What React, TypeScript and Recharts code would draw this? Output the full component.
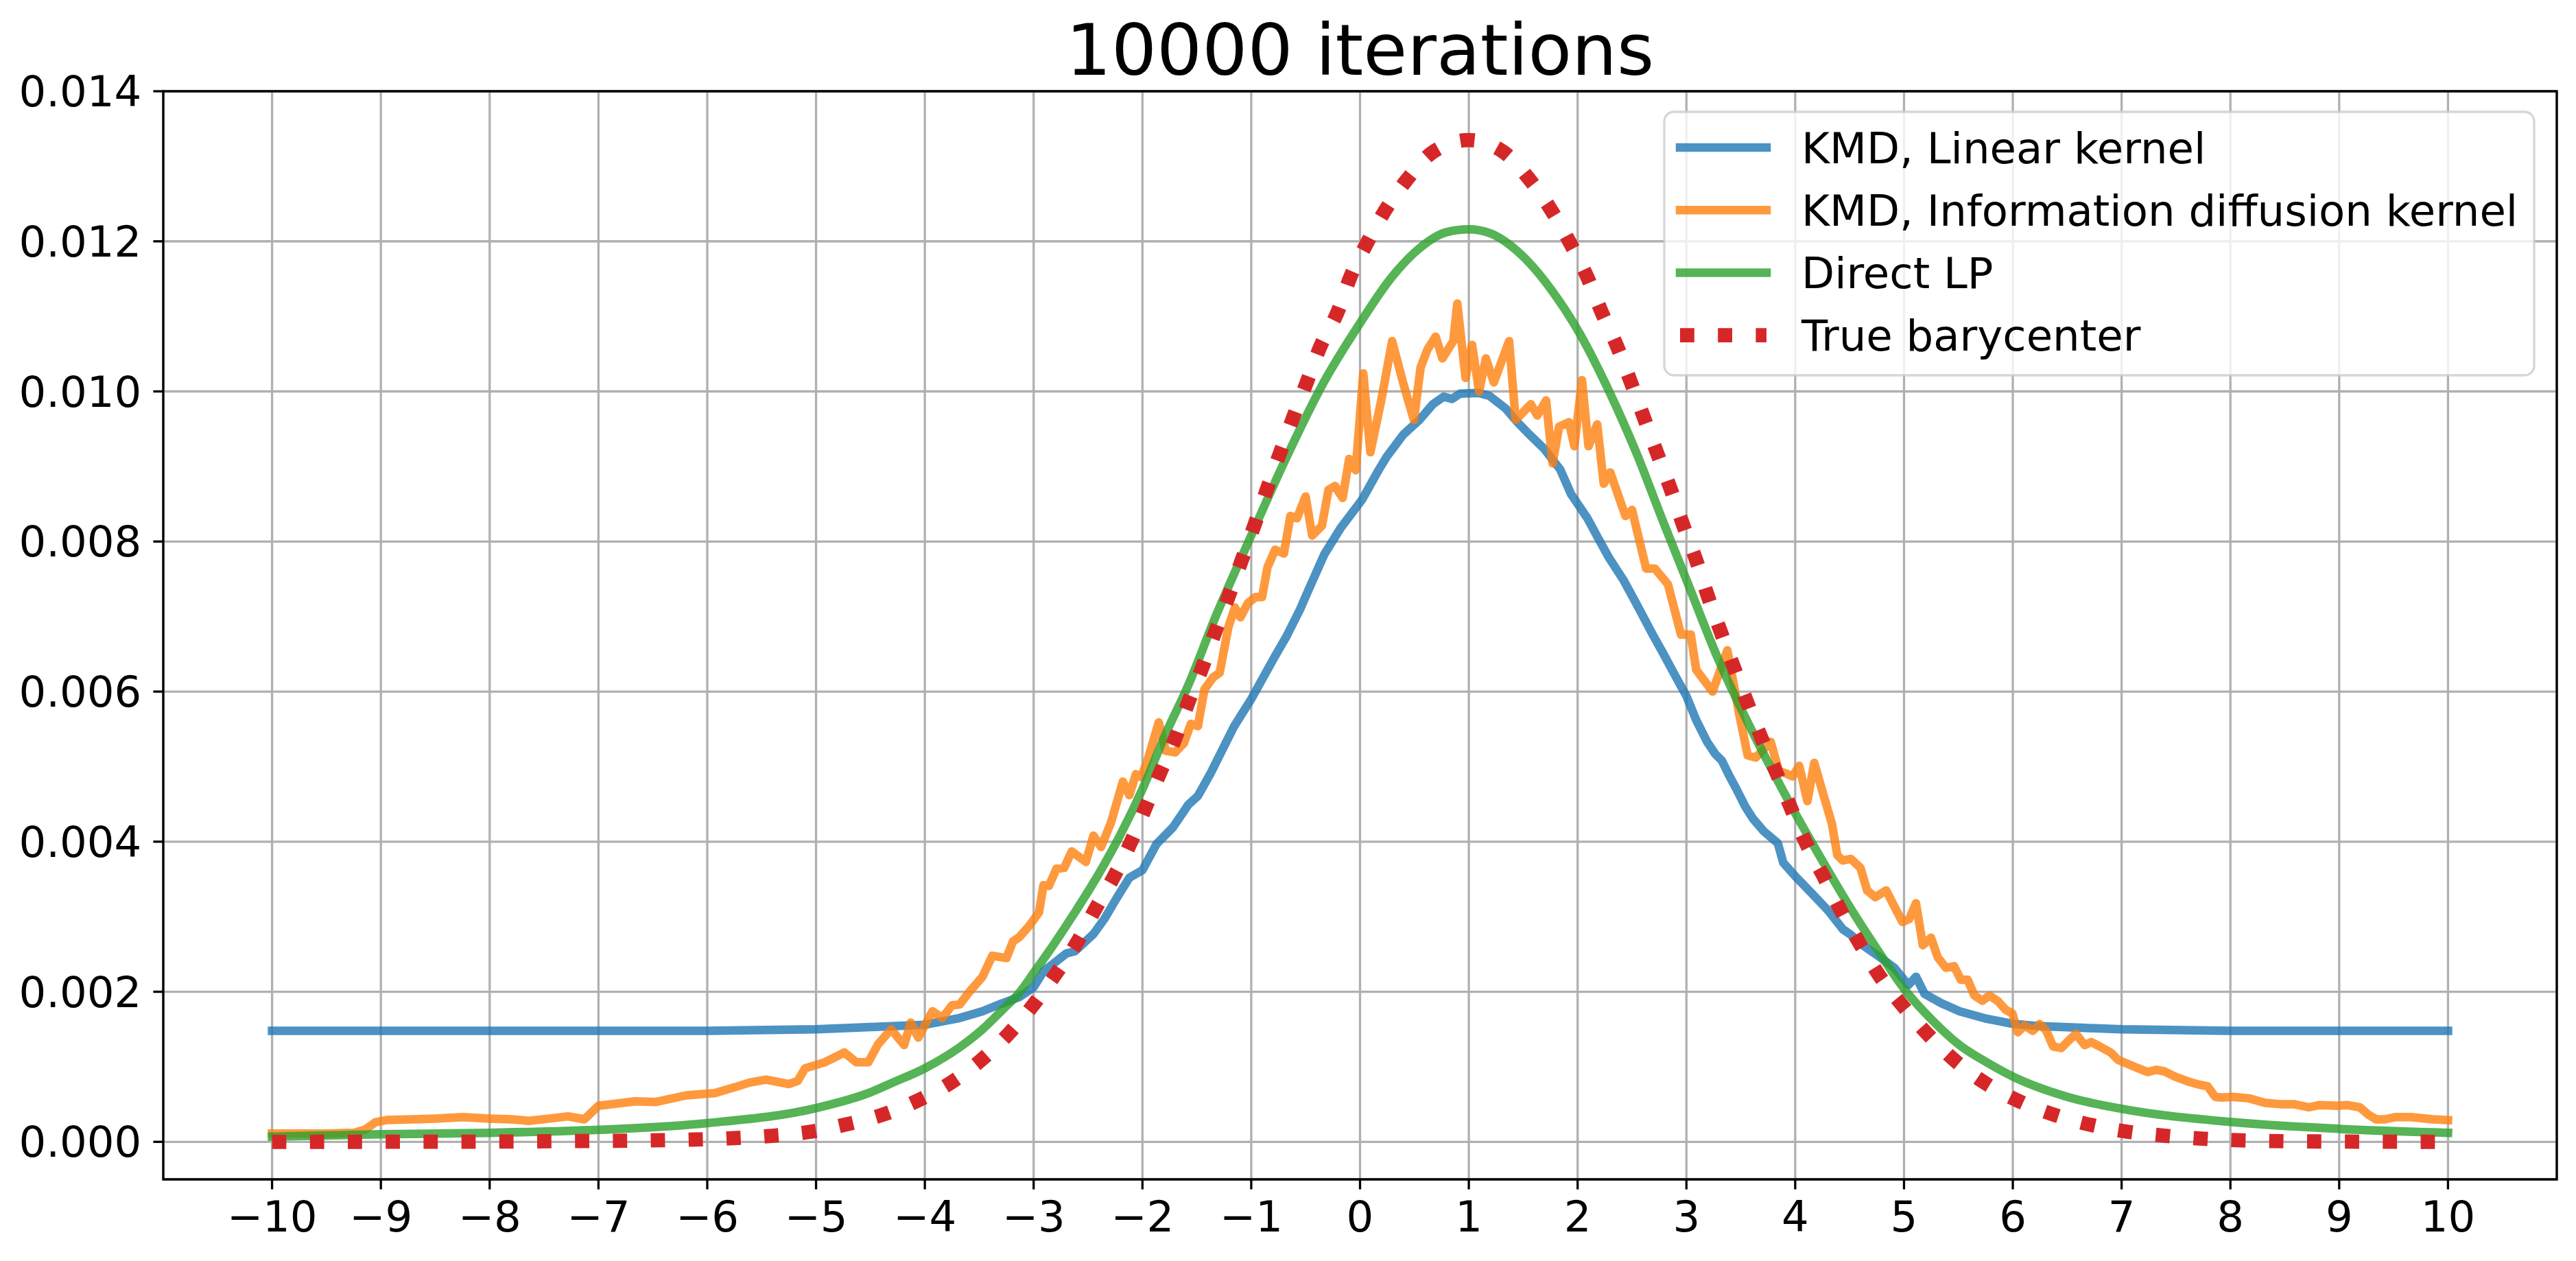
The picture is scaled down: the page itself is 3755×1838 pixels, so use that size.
import React from 'react';
import { LineChart, Line, XAxis, YAxis, CartesianGrid, ReferenceArea } from 'recharts';

const W = 3755;
const H = 1838;
const FONT = '"DejaVu Sans", Verdana, sans-serif';
const MARGIN = { top: 133, right: 28, bottom: 0, left: 0 };
const Y_AXIS_W = 238;
const X_AXIS_H = 119;

const title = '10000 iterations';
const xTicks = [-10, -9, -8, -7, -6, -5, -4, -3, -2, -1, 0, 1, 2, 3, 4, 5, 6, 7, 8, 9, 10];
const yTicks = [0, 0.002, 0.004, 0.006, 0.008, 0.01, 0.012, 0.014];
const xDomain: [number, number] = [-11, 11];
const yDomain: [number, number] = [-0.0005, 0.014];

const seriesNames = ['KMD, Linear kernel', 'KMD, Information diffusion kernel', 'Direct LP', 'True barycenter'];
const seriesColors = ['#1f77b4', '#ff7f0e', '#2ca02c', '#d62728'];

// KMD, Linear kernel
const linearKernel: [number, number][] = [
  [-10, 0.00148], [-8, 0.00148], [-6, 0.00148], [-5, 0.0015], [-4.5, 0.00153], [-4, 0.00156],
  [-3.68, 0.00165], [-3.47, 0.00174], [-3.3, 0.00184], [-3.13, 0.00193], [-3.0, 0.00206],
  [-2.91, 0.00227], [-2.7, 0.00251], [-2.62, 0.00254], [-2.45, 0.00277], [-2.35, 0.00297],
  [-2.24, 0.00324], [-2.12, 0.00352], [-2.0, 0.00362], [-1.87, 0.00397], [-1.72, 0.00419],
  [-1.58, 0.00449], [-1.49, 0.00461], [-1.37, 0.00492], [-1.16, 0.00553], [-1.0, 0.0059],
  [-0.878, 0.00622], [-0.778, 0.00648], [-0.678, 0.00673], [-0.553, 0.00709], [-0.478, 0.00734],
  [-0.328, 0.00783], [-0.178, 0.00818], [0.02, 0.00856], [0.17, 0.00895], [0.245, 0.00913],
  [0.395, 0.00942], [0.545, 0.00962], [0.67, 0.00983], [0.77, 0.00993], [0.845, 0.0099],
  [0.92, 0.00997], [1.09, 0.00998], [1.19, 0.00994], [1.34, 0.00977], [1.44, 0.0096],
  [1.54, 0.00945], [1.69, 0.00924], [1.84, 0.00896], [1.94, 0.00863], [2.09, 0.00831],
  [2.19, 0.00804], [2.29, 0.00778], [2.42, 0.00749], [2.54, 0.00717], [2.69, 0.00676],
  [2.79, 0.0065], [2.89, 0.00623], [3.0, 0.00594], [3.09, 0.00562], [3.19, 0.00533],
  [3.264, 0.00517], [3.326, 0.00508], [3.39, 0.00489], [3.46, 0.0047], [3.54, 0.00447],
  [3.61, 0.00431], [3.71, 0.00414], [3.84, 0.00398], [3.89, 0.00372], [4.0, 0.00354],
  [4.16, 0.0033], [4.31, 0.00307], [4.44, 0.00283], [4.51, 0.00276], [4.64, 0.0026],
  [4.76, 0.00248], [4.91, 0.00232], [5.04, 0.00209], [5.11, 0.0022], [5.19, 0.00197],
  [5.34, 0.00185], [5.51, 0.00174], [5.76, 0.00164], [6.01, 0.00157], [6.26, 0.00154],
  [6.63, 0.00152], [7.0, 0.0015], [8.0, 0.00148], [10, 0.00148],
];

// KMD, Information diffusion kernel
const diffusionKernel: [number, number][] = [
  [-10, 0.00011], [-9.5, 0.00011], [-9.25, 0.00012], [-9.15, 0.00016], [-9.05, 0.00026],
  [-8.95, 0.00029], [-8.7, 0.0003], [-8.5, 0.00031], [-8.25, 0.00033], [-8.0, 0.00031],
  [-7.8, 0.0003], [-7.64, 0.00028], [-7.45, 0.00031], [-7.28, 0.00034], [-7.13, 0.0003],
  [-7.0, 0.00048], [-6.66, 0.00054], [-6.48, 0.00053], [-6.19, 0.00062], [-5.93, 0.00065],
  [-5.72, 0.00074], [-5.61, 0.00079], [-5.46, 0.00083], [-5.25, 0.00077], [-5.17, 0.00081],
  [-5.1, 0.00098], [-4.92, 0.00106], [-4.74, 0.00119], [-4.63, 0.00106], [-4.52, 0.00106],
  [-4.43, 0.0013], [-4.31, 0.0015], [-4.19, 0.00129], [-4.13, 0.00159], [-4.06, 0.00139],
  [-3.93, 0.00174], [-3.84, 0.00165], [-3.75, 0.00182], [-3.68, 0.00183], [-3.59, 0.002],
  [-3.47, 0.0022], [-3.38, 0.00248], [-3.25, 0.00245], [-3.19, 0.00267], [-3.13, 0.00273],
  [-3.04, 0.00288], [-2.95, 0.00306], [-2.91, 0.00342], [-2.86, 0.00341], [-2.79, 0.00364],
  [-2.72, 0.00365], [-2.65, 0.00387], [-2.52, 0.00373], [-2.45, 0.00408], [-2.38, 0.00393],
  [-2.29, 0.00425], [-2.18, 0.0048], [-2.12, 0.00462], [-2.06, 0.0049], [-2.01, 0.00486],
  [-1.95, 0.0051], [-1.85, 0.00559], [-1.785, 0.00521], [-1.7, 0.00519], [-1.62, 0.00531],
  [-1.555, 0.00557], [-1.49, 0.00554], [-1.43, 0.00603], [-1.35, 0.00619], [-1.29, 0.00625],
  [-1.21, 0.00686], [-1.15, 0.00712], [-1.1, 0.00699], [-1.03, 0.00718], [-0.96, 0.00726],
  [-0.9, 0.00726], [-0.85, 0.00766], [-0.78, 0.00789], [-0.7, 0.00784], [-0.64, 0.00834],
  [-0.58, 0.00831], [-0.5, 0.0086], [-0.44, 0.00808], [-0.35, 0.00821], [-0.29, 0.00869],
  [-0.23, 0.00874], [-0.16, 0.00858], [-0.1, 0.0091], [-0.04, 0.00895], [0.03, 0.01024],
  [0.095, 0.00919], [0.195, 0.00988], [0.295, 0.01067], [0.395, 0.01012], [0.495, 0.00962],
  [0.557, 0.01032], [0.62, 0.01056], [0.695, 0.01073], [0.757, 0.01044], [0.857, 0.01067],
  [0.894, 0.01117], [0.97, 0.01018], [1.03, 0.01062], [1.094, 0.01], [1.157, 0.01044],
  [1.23, 0.01012], [1.37, 0.01067], [1.43, 0.00962], [1.57, 0.00983], [1.63, 0.00968],
  [1.71, 0.00988], [1.77, 0.00904], [1.83, 0.00953], [1.92, 0.00959], [1.97, 0.00927],
  [2.04, 0.01015], [2.1, 0.00927], [2.18, 0.00956], [2.24, 0.00877], [2.3, 0.00892],
  [2.44, 0.00834], [2.5, 0.00842], [2.63, 0.00764], [2.71, 0.00764], [2.83, 0.00743],
  [2.95, 0.00676], [3.04, 0.00676], [3.09, 0.00629], [3.24, 0.006], [3.376, 0.00655],
  [3.488, 0.00568], [3.563, 0.00515], [3.638, 0.00512], [3.775, 0.00533], [3.85, 0.00494],
  [3.913, 0.00491], [3.975, 0.00487], [4.037, 0.00501], [4.112, 0.00454], [4.175, 0.00505],
  [4.262, 0.00461], [4.337, 0.00424], [4.387, 0.00382], [4.437, 0.00375], [4.512, 0.00377],
  [4.6, 0.00365], [4.661, 0.00335], [4.736, 0.00326], [4.836, 0.00335], [4.91, 0.00314],
  [4.986, 0.00293], [5.048, 0.00297], [5.11, 0.00318], [5.173, 0.00262], [5.248, 0.00272],
  [5.31, 0.00246], [5.385, 0.00232], [5.46, 0.00234], [5.522, 0.00216], [5.585, 0.00216],
  [5.647, 0.00195], [5.722, 0.00188], [5.784, 0.00195], [5.859, 0.00188], [5.934, 0.00176],
  [5.996, 0.00171], [6.046, 0.00146], [6.109, 0.00155], [6.184, 0.00148], [6.246, 0.00157],
  [6.308, 0.00148], [6.371, 0.00127], [6.446, 0.00125], [6.52, 0.00136], [6.58, 0.00144],
  [6.66, 0.00129], [6.72, 0.00133], [6.8, 0.00127], [6.9, 0.00119], [6.97, 0.00109],
  [7.12, 0.001], [7.24, 0.00093], [7.32, 0.00096], [7.39, 0.00094], [7.49, 0.00087],
  [7.62, 0.0008], [7.72, 0.00076], [7.79, 0.00074], [7.86, 0.0006], [7.92, 0.00059],
  [8.02, 0.0006], [8.17, 0.00058], [8.32, 0.00052], [8.47, 0.0005], [8.59, 0.0005],
  [8.72, 0.00046], [8.82, 0.00049], [8.99, 0.00048], [9.07, 0.00049], [9.19, 0.00046],
  [9.27, 0.00036], [9.34, 0.0003], [9.42, 0.0003], [9.52, 0.00033], [9.66, 0.00033],
  [9.86, 0.0003], [10.0, 0.00029],
];

// Direct LP
const directLP: [number, number][] = [
  [-10, 0.00007], [-9, 0.0001], [-8, 0.00012], [-7, 0.00016], [-6, 0.00025], [-5, 0.00045],
  [-4.5, 0.00066], [-4.31, 0.00078], [-4, 0.00098], [-3.68, 0.00126], [-3.47, 0.0015],
  [-3.3, 0.00174], [-3.13, 0.00199], [-3.0, 0.00225], [-2.83, 0.0026], [-2.62, 0.00306],
  [-2.41, 0.00355], [-2.2, 0.0041], [-2.0, 0.0047], [-1.785, 0.00544], [-1.58, 0.00608],
  [-1.33, 0.00699], [-1.0, 0.00808], [-0.68, 0.00911], [-0.33, 0.01013], [0, 0.01091],
  [0.29, 0.01152], [0.54, 0.0119], [0.79, 0.01212], [1.0, 0.01216], [1.19, 0.01211],
  [1.49, 0.01181], [1.79, 0.01129], [2.0, 0.01082], [2.29, 0.01], [2.54, 0.00918],
  [2.79, 0.00825], [3.0, 0.00749], [3.29, 0.00644], [3.51, 0.00575], [3.76, 0.00503],
  [4.0, 0.00438], [4.26, 0.00372], [4.51, 0.00311], [4.76, 0.00255], [5.0, 0.00204],
  [5.26, 0.00162], [5.51, 0.00129], [5.76, 0.00106], [6.0, 0.00087], [6.5, 0.0006],
  [7.0, 0.00044], [8.0, 0.000265], [9.0, 0.000173], [10.0, 0.00012],
];

// True barycenter
const trueBarycenter: [number, number][] = [
  [-10, 0], [-9, 0.000001], [-8, 0.000003], [-7.25, 0.00001], [-6.5, 0.00002], [-5.75, 0.00005],
  [-5.41, 0.00008], [-5.07, 0.00013], [-4.73, 0.00023], [-4.39, 0.00036], [-4.08, 0.00054],
  [-3.76, 0.00079], [-3.49, 0.00108], [-3.23, 0.00144], [-3.0, 0.00183], [-2.8, 0.00223],
  [-2.6, 0.00266], [-2.43, 0.00311], [-2.26, 0.00354], [-2.11, 0.00398], [-1.97, 0.00446],
  [-1.84, 0.00491], [-1.7, 0.00537], [-1.58, 0.00585], [-1.45, 0.00632], [-1.33, 0.0068],
  [-1.21, 0.00726], [-1.09, 0.00774], [-0.97, 0.00822], [-0.85, 0.00872], [-0.73, 0.0092],
  [-0.61, 0.00967], [-0.49, 0.01012], [-0.37, 0.01058], [-0.2, 0.01108], [-0.09, 0.01152],
  [0.065, 0.01198], [0.23, 0.01241], [0.43, 0.01282], [0.67, 0.01319], [1.0, 0.01335],
  [1.32, 0.01319], [1.56, 0.01282], [1.76, 0.01241], [1.93, 0.01198], [2.09, 0.01152],
  [2.22, 0.01106], [2.36, 0.01061], [2.49, 0.01012], [2.61, 0.00965], [2.73, 0.00918],
  [2.85, 0.00872], [2.97, 0.00822], [3.09, 0.00775], [3.2, 0.00726], [3.32, 0.00678],
  [3.44, 0.00631], [3.56, 0.00585], [3.69, 0.00538], [3.83, 0.00491], [3.96, 0.00445],
  [4.1, 0.00398], [4.26, 0.00354], [4.42, 0.00308], [4.59, 0.00265], [4.78, 0.0022],
  [4.99, 0.00181], [5.22, 0.00143], [5.47, 0.00108], [5.75, 0.00078], [6.06, 0.00054],
  [6.38, 0.00036], [6.72, 0.000225], [7.06, 0.000134], [7.41, 0.00008], [7.76, 0.00004],
  [8.1, 0.00002], [8.8, 0.000005], [10, 0],
];

const toData = (pts: [number, number][]) => pts.map(([x, y]) => ({ x, y }));

const fmtX = (v: number) => (v < 0 ? '\u2212' + Math.abs(v) : String(v));
const fmtY = (v: number) => v.toFixed(3);

const tickStyle = { fill: '#000', fontSize: 62.5, fontFamily: FONT };
const LW = 12.5;
const DOT_LW = 20.8;
const DOT_DASH = '20.8 34.4';

export default function App() {
  const plotLeft = MARGIN.left + Y_AXIS_W;
  const plotRight = W - MARGIN.right;
  const titleX = (plotLeft + plotRight) / 2;

  const legend = { x: 2426, y: 163, w: 1268, h: 384, rowY0: 215, rowStep: 91.2, lx1: 2449, lx2: 2575, tx: 2626 };

  return (
    <div style={{ position: 'absolute', left: 0, top: 0, width: W, height: H, background: '#fff' }}>
      <LineChart width={W} height={H} margin={MARGIN}>
        <CartesianGrid stroke="#b0b0b0" strokeWidth={3.3} />
        <XAxis
          type="number"
          dataKey="x"
          domain={xDomain}
          ticks={xTicks}
          interval={0}
          allowDataOverflow
          height={X_AXIS_H}
          tickSize={14.6}
          tickMargin={17}
          tick={tickStyle}
          tickLine={{ stroke: '#000', strokeWidth: 3.3 }}
          axisLine={false}
          tickFormatter={fmtX}
        />
        <YAxis
          type="number"
          domain={yDomain}
          ticks={yTicks}
          interval={0}
          allowDataOverflow
          width={Y_AXIS_W}
          tickSize={14.6}
          tickMargin={17}
          tick={tickStyle}
          tickLine={{ stroke: '#000', strokeWidth: 3.3 }}
          axisLine={false}
          tickFormatter={fmtY}
        />
        <Line
          data={toData(linearKernel)}
          dataKey="y"
          name={seriesNames[0]}
          type="linear"
          stroke={seriesColors[0]}
          strokeOpacity={0.8}
          strokeWidth={LW}
          strokeLinecap="square"
          strokeLinejoin="round"
          dot={false}
          activeDot={false}
          isAnimationActive={false}
        />
        <Line
          data={toData(diffusionKernel)}
          dataKey="y"
          name={seriesNames[1]}
          type="linear"
          stroke={seriesColors[1]}
          strokeOpacity={0.8}
          strokeWidth={LW}
          strokeLinecap="square"
          strokeLinejoin="round"
          dot={false}
          activeDot={false}
          isAnimationActive={false}
        />
        <Line
          data={toData(directLP)}
          dataKey="y"
          name={seriesNames[2]}
          type="monotone"
          stroke={seriesColors[2]}
          strokeOpacity={0.8}
          strokeWidth={LW}
          strokeLinecap="square"
          strokeLinejoin="round"
          dot={false}
          activeDot={false}
          isAnimationActive={false}
        />
        <Line
          data={toData(trueBarycenter)}
          dataKey="y"
          name={seriesNames[3]}
          type="monotone"
          stroke={seriesColors[3]}
          strokeWidth={DOT_LW}
          strokeDasharray={DOT_DASH}
          strokeLinecap="butt"
          dot={false}
          activeDot={false}
          isAnimationActive={false}
        />
        <ReferenceArea
          x1={xDomain[0]}
          x2={xDomain[1]}
          y1={yDomain[0]}
          y2={yDomain[1]}
          fill="none"
          stroke="#000"
          strokeWidth={3.3}
          ifOverflow="visible"
        />
      </LineChart>
      <svg
        width={W}
        height={H}
        style={{ position: 'absolute', left: 0, top: 0, pointerEvents: 'none' }}
      >
        <text x={titleX} y={109} textAnchor="middle" fontSize={104} fontFamily={FONT} fill="#000">
          {title}
        </text>
        <rect
          x={legend.x}
          y={legend.y}
          width={legend.w}
          height={legend.h}
          rx={14}
          ry={14}
          fill="#fff"
          fillOpacity={0.8}
          stroke="#cccccc"
          strokeOpacity={0.8}
          strokeWidth={3.3}
        />
        {seriesNames.map((name, i) => {
          const cy = legend.rowY0 + i * legend.rowStep;
          const dotted = i === 3;
          return (
            <g key={name}>
              <line
                x1={legend.lx1}
                x2={legend.lx2}
                y1={cy}
                y2={cy}
                stroke={seriesColors[i]}
                strokeOpacity={dotted ? 1 : 0.8}
                strokeWidth={dotted ? DOT_LW : LW}
                strokeDasharray={dotted ? DOT_DASH : undefined}
                strokeLinecap={dotted ? 'butt' : 'square'}
              />
              <text x={legend.tx} y={cy + 22.5} fontSize={62.5} fontFamily={FONT} fill="#000">
                {name}
              </text>
            </g>
          );
        })}
      </svg>
    </div>
  );
}
